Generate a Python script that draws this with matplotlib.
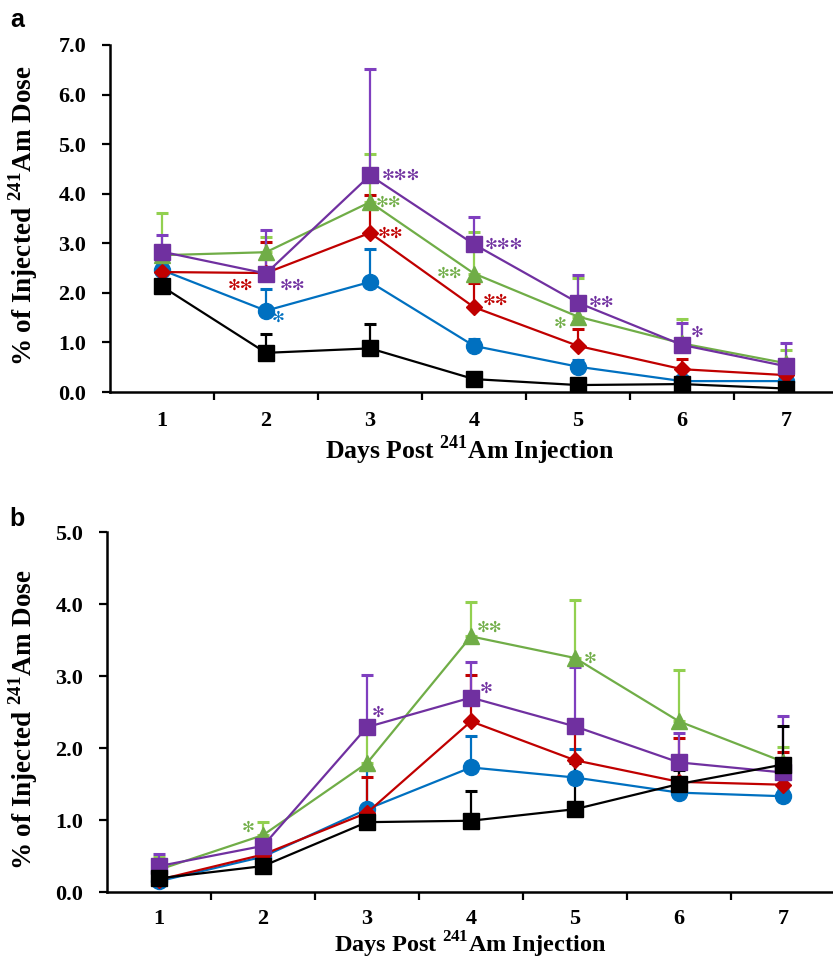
import numpy as np
import matplotlib.pyplot as plt

plt.rcParams['font.family'] = 'Liberation Serif'
plt.rcParams['font.weight'] = 'bold'
plt.rcParams['mathtext.fontset'] = 'custom'
plt.rcParams['mathtext.rm'] = 'Liberation Serif:bold'
plt.rcParams['mathtext.bf'] = 'Liberation Serif:bold'

days = [1, 2, 3, 4, 5, 6, 7]

# panel a - means and upper SD
a_black = [2.13, 0.79, 0.88, 0.26, 0.14, 0.16, 0.07]
a_black_sd = [0.10, 0.38, 0.50, 0.13, 0.05, 0.05, 0.04]
a_blue = [2.46, 1.64, 2.22, 0.93, 0.51, 0.22, 0.22]
a_blue_sd = [0.10, 0.43, 0.67, 0.14, 0.14, 0.05, 0.03]
a_red = [2.42, 2.40, 3.21, 1.71, 0.93, 0.46, 0.34]
a_red_sd = [0.10, 0.62, 0.76, 0.49, 0.35, 0.21, 0.10]
a_green = [2.76, 2.82, 3.83, 2.39, 1.52, 0.98, 0.58]
a_green_sd = [0.86, 0.31, 0.98, 0.84, 0.78, 0.49, 0.27]
a_purple = [2.83, 2.39, 4.37, 2.98, 1.80, 0.95, 0.52]
a_purple_sd = [0.33, 0.87, 2.14, 0.56, 0.56, 0.45, 0.46]

# panel b
b_black = [0.19, 0.36, 0.97, 0.99, 1.15, 1.50, 1.77]
b_black_sd = [0.05, 0.05, 0.05, 0.41, 0.64, 0.20, 0.54]
b_blue = [0.15, 0.49, 1.15, 1.73, 1.59, 1.38, 1.33]
b_blue_sd = [0.05, 0.05, 0.54, 0.44, 0.39, 0.10, 0.10]
b_red = [0.17, 0.52, 1.10, 2.37, 1.83, 1.53, 1.49]
b_red_sd = [0.05, 0.05, 0.50, 0.64, 0.40, 0.61, 0.45]
b_green = [0.31, 0.79, 1.79, 3.55, 3.25, 2.37, 1.81]
b_green_sd = [0.18, 0.18, 0.50, 0.48, 0.81, 0.71, 0.20]
b_purple = [0.36, 0.64, 2.29, 2.70, 2.30, 1.80, 1.66]
b_purple_sd = [0.17, 0.10, 0.72, 0.49, 0.83, 0.41, 0.79]

# significance marks: (day, label)
a_blue_sig = [(2, '*')]
a_red_sig = [(2, '**'), (3, '**'), (4, '**')]
a_green_sig = [(3, '**'), (4, '**'), (5, '*')]
a_purple_sig = [(2, '**'), (3, '***'), (4, '***'), (5, '**'), (6, '*')]
b_green_sig = [(2, '*'), (4, '**'), (5, '*')]
b_purple_sig = [(3, '*'), (4, '*')]

# offsets in pixels for each mark
a_offsets = {('blue', 2): (12, -7), ('red', 2): (-26, -12), ('red', 3): (20, 0),
             ('red', 4): (21, 7), ('green', 3): (18, 0), ('green', 4): (-25, 0),
             ('green', 5): (-18, -7), ('purple', 2): (26, -12), ('purple', 3): (31, 0),
             ('purple', 4): (30, 0), ('purple', 5): (23, 0), ('purple', 6): (15, 13)}
b_offsets = {('green', 2): (-15, 8), ('green', 4): (18, 9), ('green', 5): (15, 0),
             ('purple', 3): (11, 15), ('purple', 4): (15, 9)}

colors = {'black': '#000000', 'blue': '#0070C0', 'red': '#C00000',
          'green': '#70AD47', 'purple': '#7030A0'}
errcolors = {'black': '#000000', 'blue': '#0070C0', 'red': '#C00000',
             'green': '#92D050', 'purple': '#7F3FBF'}
markers = {'black': ('s', 11), 'blue': ('o', 11.5), 'red': ('D', 8),
           'green': ('^', 11), 'purple': ('s', 11)}


def draw(ax, series, sigs, offsets, ymax, ystep, xpad):
    for name, (y, sd) in series.items():
        y = np.array(y)
        sd = np.array(sd)
        m, ms = markers[name]
        ax.errorbar(days, y, yerr=[np.zeros_like(sd), sd], fmt='none',
                    ecolor=errcolors[name], elinewidth=1.6, capsize=4, capthick=2.2, zorder=2)
        ax.plot(days, y, color=colors[name], lw=1.6, marker=m, ms=ms,
                markeredgecolor=colors[name], zorder=3)
    for name, marks in sigs.items():
        y = series[name][0]
        for d, lab in marks:
            dx, dy = offsets[(name, d)]
            ax.annotate(lab.replace('*', '\u273b'), xy=(d, y[d - 1]), xytext=(dx, dy),
                        textcoords='offset pixels', ha='center', va='center',
                        color=colors[name], fontsize=11, family='DejaVu Sans',
                        fontweight='normal', zorder=5)
    ax.set_xlim(0.5, 7.5)
    ax.set_ylim(0, ymax)
    ax.set_yticks(np.arange(0, ymax + 0.01, ystep))
    ax.set_yticklabels(['%.1f' % v for v in np.arange(0, ymax + 0.01, ystep)])
    ax.set_xticks(days)
    ax.set_xticks(np.arange(1.5, 7.6, 1), minor=True)
    ax.tick_params(axis='x', which='major', length=0, pad=xpad, labelsize=16)
    ax.tick_params(axis='x', which='minor', length=6, width=1.6, direction='out')
    ax.tick_params(axis='y', length=6, width=1.6, direction='out', pad=11, labelsize=16)
    for s in ['top', 'right']:
        ax.spines[s].set_visible(False)
    for s in ['left', 'bottom']:
        ax.spines[s].set_linewidth(1.8)


fig = plt.figure(figsize=(8.33, 9.61), dpi=100)
W, H = 833, 961
ax1 = fig.add_axes([110 / W, 1 - 392 / H, 728 / W, 347 / H])
ax2 = fig.add_axes([107 / W, 1 - 892 / H, 728 / W, 360 / H])

draw(ax1, {'blue': (a_blue, a_blue_sd), 'red': (a_red, a_red_sd),
           'green': (a_green, a_green_sd), 'purple': (a_purple, a_purple_sd),
           'black': (a_black, a_black_sd)},
     {'blue': a_blue_sig, 'red': a_red_sig, 'green': a_green_sig, 'purple': a_purple_sig},
     a_offsets, 7.0, 1.0, 14)
draw(ax2, {'blue': (b_blue, b_blue_sd), 'red': (b_red, b_red_sd),
           'green': (b_green, b_green_sd), 'purple': (b_purple, b_purple_sd),
           'black': (b_black, b_black_sd)},
     {'green': b_green_sig, 'purple': b_purple_sig},
     b_offsets, 5.0, 1.0, 12)

ylab = r'% of Injected $^{241}$Am Dose'
xlab = r'Days Post $^{241}$Am Injection'
fig.text(23 / W, 1 - 216 / H, ylab, rotation=90, ha='center', va='center', fontsize=19.5)
fig.text(23 / W, 1 - 720 / H, ylab, rotation=90, ha='center', va='center', fontsize=19.5)
fig.text(470 / W, 1 - 450 / H, xlab, ha='center', va='center', fontsize=18.5)
fig.text(470 / W, 1 - 945 / H, xlab, ha='center', va='center', fontsize=17.5)
fig.text(17 / W, 1 - 20 / H, 'a', ha='center', va='center', fontsize=18,
         family='Liberation Sans', fontweight='bold')
fig.text(17 / W, 1 - 519 / H, 'b', ha='center', va='center', fontsize=18,
         family='Liberation Sans', fontweight='bold')

fig.savefig('out.png', dpi=100)
